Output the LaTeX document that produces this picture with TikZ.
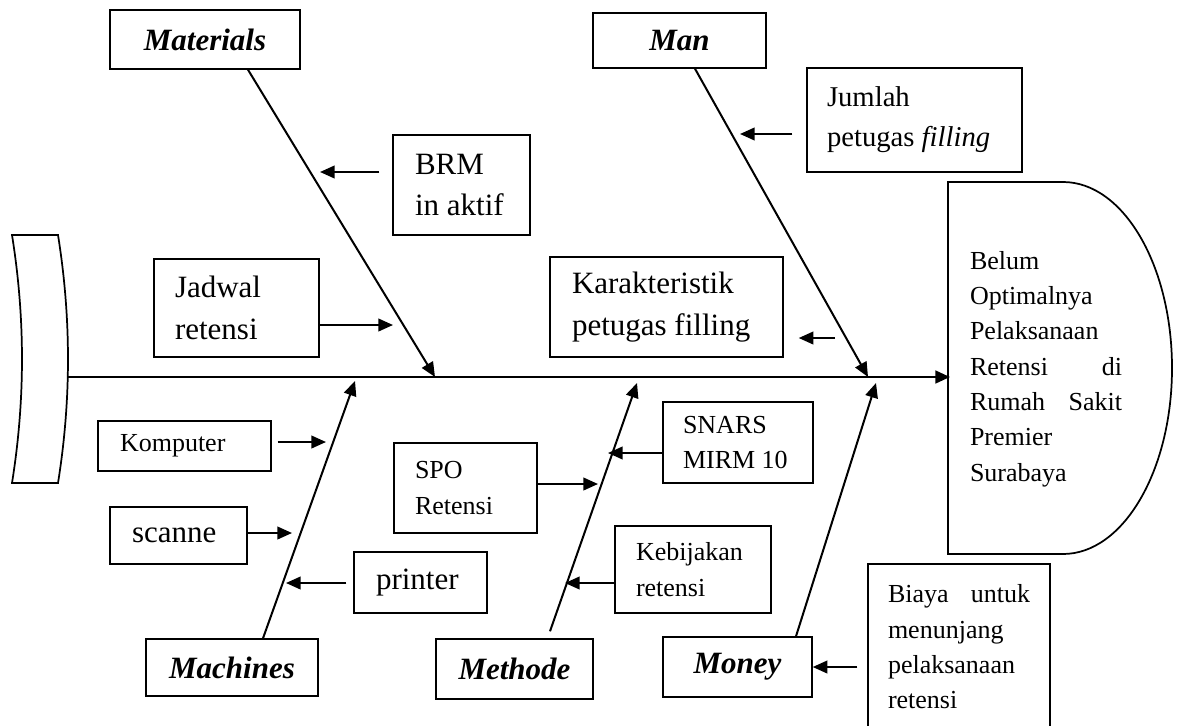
\documentclass[tikz,border=0pt]{standalone}
\usepackage{fontspec}
\setmainfont{Liberation Serif}
\usetikzlibrary{arrows.meta,calc}
\newcommand{\bigtxt}{\fontsize{23.25pt}{31pt}\selectfont}
\newcommand{\smalltxt}{\fontsize{19.5pt}{26.5pt}\selectfont}
\newcommand{\jmltxt}{\fontsize{21.5pt}{30pt}\selectfont}
\tikzset{
  catbox/.style={draw, line width=1.1pt, inner sep=0pt, font=\bigtxt\bfseries\itshape},
  causebox/.style={draw, line width=1.1pt, inner ysep=0pt, align=flush left, font=\bigtxt},
  bone/.style={line width=1.5pt, -{Triangle[length=11pt,width=9.5pt]}},
  arr/.style={line width=1.5pt, -{Triangle[length=11pt,width=9.5pt]}},
}
\begin{document}
\begin{tikzpicture}[x=0.75pt,y=0.75pt,yscale=-1,xscale=1]
\useasboundingbox (0,0) rectangle (1178,725);

%Shape: tail
\draw[line width=1.3pt] (12,235) -- (58,235) .. controls (71.3,318) and (71.3,400) .. (58,483) -- (12,483) .. controls (25.3,400) and (25.3,318) .. (12,235) -- cycle;
%Shape: head
\draw[line width=1.3pt] (948,182) -- (1063,182) .. controls (1123.2,182) and (1172,265.3) .. (1172,368) .. controls (1172,470.7) and (1123.2,554) .. (1063,554) -- (948,554) -- cycle;
% Text Node
\node[align=flush left, text width=114pt, inner sep=0pt, font=\smalltxt] (head) at (1046,369) {Belum\\Optimalnya\\Pelaksanaan\\Retensi\hfill di\\Rumah\hfill Sakit\\Premier\\Surabaya};

%Spine
\coordinate (tailE) at (67,377);
\coordinate (headW) at (950,377);
\draw[line width=2pt, -{Triangle[length=11pt,width=9.5pt]}] (tailE) -- (headW);

%Categories
\node[catbox, minimum width=142.5pt, minimum height=44.25pt] (materials) at (205,39.5) {Materials};
\node[catbox, minimum width=129.75pt, minimum height=41.25pt] (man) at (679.5,40.5) {Man};
\node[catbox, minimum width=129pt, minimum height=42.75pt] (machines) at (232,667.5) {Machines};
\node[catbox, minimum width=117.75pt, minimum height=45pt] (methode) at (514.5,669) {Methode};
\node[catbox, minimum width=111.75pt, minimum height=45pt] (money) at (737.5,667) {Money};

%Causes
\node[causebox, text width=69.75pt, inner xsep=16.5pt, minimum height=75pt] (brm) at (461.5,185) {BRM\\in aktif};
\node[causebox, text width=92.25pt, inner xsep=15.75pt, minimum height=73.5pt] (jadwal) at (236.5,308) {Jadwal\\retensi};
\node[causebox, font=\smalltxt, text width=96.75pt, inner xsep=16.5pt, minimum height=37.5pt] (komputer) at (184.5,446) {Komputer};
\node[causebox, text width=69.75pt, inner xsep=16.5pt, minimum height=42.75pt] (scanne) at (178.5,535.5) {scanne};
\node[causebox, text width=66.75pt, inner xsep=16.5pt, minimum height=45.75pt] (printer) at (420.5,582.5) {printer};
\node[causebox, font=\smalltxt, text width=75.75pt, inner xsep=15.75pt, minimum height=67.5pt] (spo) at (465.5,488) {SPO\\Retensi};
\node[causebox, font=\smalltxt, text width=82.5pt, inner xsep=15pt, minimum height=60.75pt] (snars) at (738,442.5) {SNARS\\MIRM 10};
\node[causebox, font=\smalltxt, text width=85.5pt, inner xsep=15.75pt, minimum height=65.25pt] (kebijakan) at (693,569.5) {Kebijakan\\retensi};
\node[causebox, font=\smalltxt, text width=106.5pt, inner xsep=15pt, minimum height=124.5pt] (biaya) at (959,647) {Biaya\hfill untuk\\menunjang\\pelaksanaan\\retensi};
\node[causebox, font=\jmltxt, text width=131.25pt, inner xsep=15pt, minimum height=78pt] (jumlah) at (914.5,120) {Jumlah\\petugas \textit{filling}};
\node[causebox, text width=141.75pt, inner xsep=16.5pt, minimum height=75pt] (karakter) at (666.5,307) {Karakteristik\\petugas filling};

%Bones
\coordinate (matT) at (435,377);
\coordinate (manT) at (868,377);
\coordinate (macT) at (355,381);
\coordinate (metT) at (637,383);
\coordinate (monT) at (876,383);
\draw[bone] ($(materials.south)+(43,0)$) -- (matT);
\draw[bone] ($(man.south)+(15.5,0)$) -- (manT);
\draw[bone] ($(machines.north)+(31,0)$) -- (macT);
\draw[bone] ($(methode.north)+(35.5,-7)$) -- (metT);
\draw[bone] ($(money.north)+(58.5,0)$) -- (monT);

%Cause arrows
\coordinate (brmT) at (320,172);
\draw[arr, shorten <=9.75pt] (brm.west |- brmT) -- (brmT);
\coordinate (jadT) at (393,325);
\draw[arr] (jadwal.east |- jadT) -- (jadT);
\coordinate (komT) at (326,442);
\draw[arr, shorten <=4.5pt] (komputer.east |- komT) -- (komT);
\coordinate (scaT) at (292,533);
\draw[arr] (scanne.east |- scaT) -- (scaT);
\coordinate (priT) at (286,583);
\draw[arr, shorten <=5.25pt] (printer.west |- priT) -- (priT);
\coordinate (spoT) at (598,484);
\draw[arr] (spo.east |- spoT) -- (spoT);
\coordinate (snaT) at (608,453);
\draw[arr] (snars.west |- snaT) -- (snaT);
\coordinate (kebT) at (565,583);
\draw[arr] (kebijakan.west |- kebT) -- (kebT);
\draw[arr, shorten <=7.5pt] (biaya.west |- money.east) -- (money.east);
\coordinate (jmlT) at (740,134);
\draw[arr, shorten <=10.5pt] (jumlah.west |- jmlT) -- (jmlT);
\coordinate (karS) at (835,338);
\draw[arr, shorten >=11.25pt] (karS) -- (karakter.east |- karS);
\end{tikzpicture}
\end{document}
